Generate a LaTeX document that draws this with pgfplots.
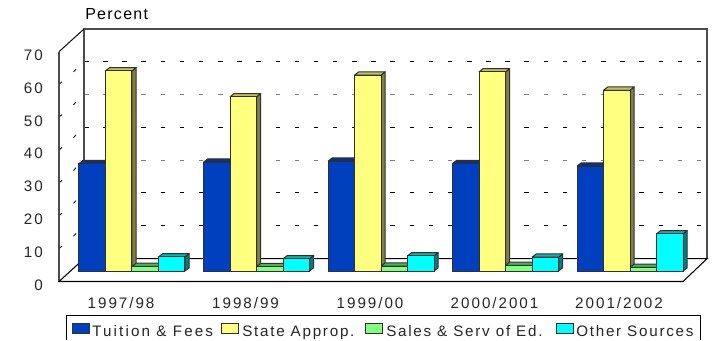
\documentclass[border=0pt]{standalone}
\usepackage{pgfplots}
\usepackage{pgfplotstable}
\usepackage{fontspec}
\pgfplotsset{compat=1.18}
\setmainfont{Liberation Sans}
\newfontfamily\ls[LetterSpace=13]{Liberation Sans}
\newfontfamily\lsw[LetterSpace=14]{Liberation Sans}
\newfontfamily\lsn[LetterSpace=11.5]{Liberation Sans}
\newfontfamily\lsp[LetterSpace=8]{Liberation Sans}
\definecolor{tuit}{HTML}{0040BF}\definecolor{tuitT}{HTML}{0F2F80}\definecolor{tuitS}{HTML}{0F2F80}
\definecolor{stat}{HTML}{FFFF80}\definecolor{statT}{HTML}{C0C060}\definecolor{statS}{HTML}{808040}
\definecolor{sale}{HTML}{80FF80}\definecolor{saleT}{HTML}{50B060}\definecolor{saleS}{HTML}{408050}
\definecolor{othr}{HTML}{00FFFF}\definecolor{othrT}{HTML}{10B0B0}\definecolor{othrS}{HTML}{008080}
\definecolor{edge}{HTML}{303030}
\pgfplotstableread{
idx tuition state sales other
0   32.7    60.9  1.4   4.3
1   33.1    53.0  1.3   3.7
2   33.4    59.6  1.5   4.6
3   32.7    60.6  1.7   4.2
4   31.9    55.0  1.1   11.3
}\shares
% side and top faces of one bar: row, column, position in group, side colour, top colour
\newcommand\depthfaces[5]{%
  \pgfplotstablegetelem{#1}{#2}\of\shares
  \let\val\pgfplotsretval
  \pgfmathsetmacro\xa{#1+(-53+26.5*#3)/124.5}%
  \pgfmathsetmacro\xb{\xa+26.5/124.5}%
  \pgfmathsetmacro\xc{\xb+4.2/124.5}%
  \pgfmathsetmacro\xd{\xa+4.2/124.5}%
  \pgfmathsetmacro\vt{\val+1.0}%
  \edef\tmp{\noexpand\addplot[fill=#4,draw=edge,line width=0.75pt,line join=round] coordinates {(\xb,0)(\xc,1.0)(\xc,\vt)(\xb,\val)(\xb,0)};
    \noexpand\addplot[fill=#5,draw=edge,line width=0.75pt,line join=round] coordinates {(\xa,\val)(\xb,\val)(\xc,\vt)(\xd,\vt)(\xa,\val)};}%
  \tmp}
\begin{document}
\begin{tikzpicture}
\useasboundingbox (0,0) rectangle (534.75pt,255pt);
\begin{scope}[x=0.75pt,y=-0.75pt,yshift=255pt]
  % back wall grid
  \foreach \v/\c in {10/black,20/black,30/gray,40/black,50/gray,60/black}{
    \draw[\c,line width=0.75pt,dash pattern=on 4.5*0.75pt off 14.65*0.75pt] (84,258.7-3.286*\v) -- (707,258.7-3.286*\v);
    \draw[black,line width=0.6pt] (73.5,281.5-3.286*\v-12.4) -- (76,281.5-3.286*\v-15.2);
  }
  \foreach \v in {10,20,...,60}{
    \draw[black,line width=0.6pt] (59,281.5-3.286*\v) -- (62,281.5-3.286*\v-2.6);
  }
  % walls
  \draw[black!70,line width=1pt] (84,258.7) -- (84,29) -- (707,29) -- (707,258.7);
  \draw[black!70,line width=1pt] (59,281.5) -- (59,51.7);
  \draw[black,line width=0.7pt] (59,51.7) -- (84,29);
  % floor
  \draw[black,line width=0.8pt] (84,258.7) -- (707,258.7) -- (683,281.5);
  \draw[black,line width=0.8pt] (84,258.7) -- (59,281.5) -- (683,281.5);
\end{scope}
\begin{axis}[
  at={(44.25pt,43.875pt)},anchor=south west,
  scale only axis,width=486pt,height=189.375pt,
  xmin=-0.5863,xmax=4.6185,ymin=-3.195,ymax=73.65,
  clip=false,
  axis line style={draw=none},tick style={draw=none},
  xtick={0,1,2,3,4},
  xticklabels={1997/98,1998/99,1999/00,2000/2001,2001/2002},
  ytick={-3.195,6.805,16.805,26.805,36.805,46.805,56.805,66.805},
  yticklabels={0,10,20,30,40,50,60,70},
  tick label style={font=\fontsize{11.4pt}{12pt}\ls,text=black!85,inner sep=0pt},
  yticklabel style={anchor=east,xshift=-12pt,yshift=-2.7pt},
  xticklabel style={anchor=center,xshift=-8.2pt,yshift=-16pt},
]
\pgfplotsforeachungrouped \r in {0,1,2,3,4}{%
  \depthfaces{\r}{tuition}{0}{tuitS}{tuitT}%
  \depthfaces{\r}{state}{1}{statS}{statT}%
  \depthfaces{\r}{sales}{2}{saleS}{saleT}%
  \depthfaces{\r}{other}{3}{othrS}{othrT}%
}
\addplot[ybar,bar width=19.875pt,bar shift=-29.8125pt,fill=tuit,draw=edge,line width=0.75pt] table[x=idx,y=tuition]{\shares};
\addplot[ybar,bar width=19.875pt,bar shift=-9.9375pt,fill=stat,draw=edge,line width=0.75pt] table[x=idx,y=state]{\shares};
\addplot[ybar,bar width=19.875pt,bar shift=9.9375pt,fill=sale,draw=edge,line width=0.75pt] table[x=idx,y=sales]{\shares};
\addplot[ybar,bar width=19.875pt,bar shift=29.8125pt,fill=othr,draw=edge,line width=0.75pt] table[x=idx,y=other]{\shares};
\end{axis}
\begin{scope}[x=0.75pt,y=-0.75pt,yshift=255pt]
  \node[anchor=west,inner sep=0pt,font=\fontsize{12pt}{13pt}\lsp,text=black] at (85,14.5) {Percent};
  \draw[black,line width=0.8pt] (66.7,340) -- (66.7,315.3) -- (700.3,315.3) -- (700.3,340);
  \foreach \xx/\c in {72/tuit,221.7/stat,365.3/sale,556.3/othr}
    \draw[fill=\c,draw=edge,line width=0.75pt] (\xx,323.3) rectangle (\xx+17,333.3);
  \node[anchor=base west,inner sep=0pt,font=\fontsize{11.4pt}{12pt}\lsw,text=black!85] at (92,336.5) {Tuition \& Fees};
  \foreach \xx/\t in {242/{State Approp.},386/{Sales \& Serv of Ed.},576/{Other Sources}}
    \node[anchor=base west,inner sep=0pt,font=\fontsize{11.4pt}{12pt}\lsn,text=black!85] at (\xx,336.5) {\t};
\end{scope}
\end{tikzpicture}
\end{document}
